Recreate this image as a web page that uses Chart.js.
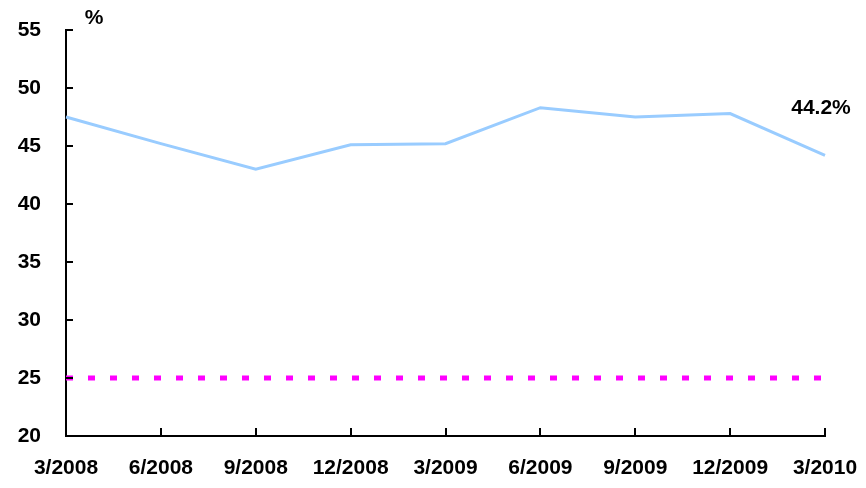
<!DOCTYPE html>
<html>
<head>
<meta charset="utf-8">
<script src="https://cdn.jsdelivr.net/npm/chart.js@4/dist/chart.umd.min.js"></script>
<style>
  html, body { margin: 0; padding: 0; background: #fff; }
  #wrap { width: 866px; height: 488px; }
</style>
</head>
<body>
<div id="wrap"><canvas id="ratio"></canvas></div>
<script>
// quarter labels
const quarters = ['3/2008', '6/2008', '9/2008', '12/2008', '3/2009', '6/2009', '9/2009', '12/2009', '3/2010'];
// main series, %
const ratio = [47.5, 45.2, 43.0, 45.1, 45.2, 48.3, 47.5, 47.8, 44.2];
// reference level, %
const refLevel = [25, 25, 25, 25, 25, 25, 25, 25, 25];
const yTicks = [20, 25, 30, 35, 40, 45, 50, 55];
const lastLabel = '44.2%';

const FONT = '"Liberation Sans", Arial, sans-serif';

// inward tick marks, % unit and end label
const extras = {
  id: 'extras',
  afterDraw(chart) {
    const ctx = chart.ctx;
    const x = chart.scales.x, y = chart.scales.y;
    const a = chart.chartArea;
    ctx.save();
    ctx.strokeStyle = '#000';
    ctx.lineWidth = 2;
    ctx.beginPath();
    yTicks.forEach(v => {
      const py = Math.round(y.getPixelForValue(v));
      ctx.moveTo(a.left, py);
      ctx.lineTo(a.left + 7, py);
    });
    quarters.forEach((q, i) => {
      const px = Math.round(x.getPixelForValue(i));
      ctx.moveTo(px, a.bottom);
      ctx.lineTo(px, a.bottom - 8);
    });
    ctx.stroke();

    ctx.fillStyle = '#000';
    ctx.font = 'bold 21px ' + FONT;
    ctx.textAlign = 'center';
    ctx.textBaseline = 'middle';
    ctx.fillText('%', a.left + 28, a.top - 12);

    const li = ratio.length - 1;
    ctx.fillText(lastLabel, x.getPixelForValue(li) - 4, y.getPixelForValue(ratio[li]) - 47);
    ctx.restore();
  }
};

function noPad(s) {
  s.paddingLeft = 0;
  s.paddingRight = 0;
  s.paddingTop = 0;
  s.paddingBottom = 0;
}

new Chart(document.getElementById('ratio'), {
  type: 'line',
  data: {
    labels: quarters,
    datasets: [{
      data: ratio,
      borderColor: '#99CCFF',
      borderWidth: 3,
      pointRadius: 0,
      tension: 0,
      fill: false
    }, {
      data: refLevel,
      borderColor: '#FF00FF',
      borderWidth: 5,
      borderDash: [7, 15],
      borderCapStyle: 'butt',
      pointRadius: 0,
      fill: false
    }]
  },
  options: {
    responsive: true,
    maintainAspectRatio: false,
    animation: false,
    layout: { padding: { top: 30, right: 41, left: 0, bottom: 0 } },
    plugins: {
      legend: { display: false },
      tooltip: { enabled: false }
    },
    scales: {
      x: {
        offset: false,
        grid: { display: false, drawTicks: false },
        border: { display: true, color: '#000', width: 2 },
        ticks: {
          color: '#000',
          padding: 20,
          maxRotation: 0,
          autoSkip: false,
          font: { family: FONT, size: 21, weight: 'bold' }
        },
        afterFit(s) { s.height = 52; noPad(s); }
      },
      y: {
        min: 20,
        max: 55,
        grid: { display: false, drawTicks: false },
        border: { display: true, color: '#000', width: 2 },
        ticks: {
          stepSize: 5,
          color: '#000',
          padding: 25,
          font: { family: FONT, size: 21, weight: 'bold' }
        },
        afterFit(s) { s.width = 66; noPad(s); }
      }
    }
  },
  plugins: [extras]
});
</script>
</body>
</html>
